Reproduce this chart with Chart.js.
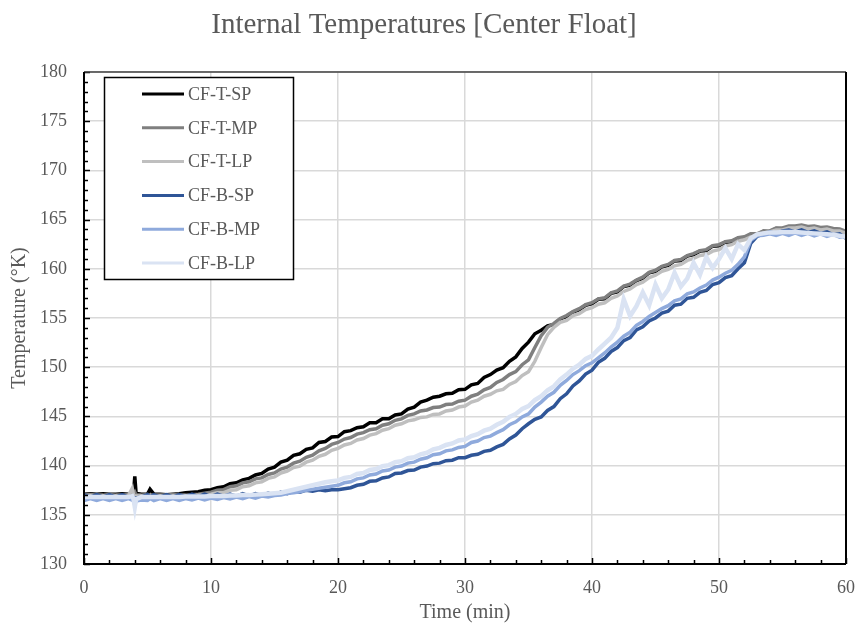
<!DOCTYPE html>
<html>
<head>
<meta charset="utf-8">
<title>Internal Temperatures [Center Float]</title>
<script src="https://cdn.jsdelivr.net/npm/chart.js@4.4.1/dist/chart.umd.min.js"></script>
<style>
    body { margin: 0; background: #fff; }
    #Chart { display: block; }
</style>
</head>
<body>
<canvas id="Chart" width="856" height="627"></canvas>
<script>
// sample times (min), extra points around the spikes near 4 and 5 min
const minutes = [
    0, 0.5, 1, 1.5, 2, 2.5, 3, 3.5, 3.8, 3.9, 4, 4.1, 4.5, 5, 5.2,
    5.5, 6, 6.5, 7, 7.5, 8, 8.5, 9, 9.5, 10,
    10.5, 11, 11.5, 12, 12.5, 13, 13.5, 14, 14.5, 15,
    15.5, 16, 16.5, 17, 17.5, 18, 18.5, 19, 19.5, 20,
    20.5, 21, 21.5, 22, 22.5, 23, 23.5, 24, 24.5, 25,
    25.5, 26, 26.5, 27, 27.5, 28, 28.5, 29, 29.5, 30,
    30.5, 31, 31.5, 32, 32.5, 33, 33.5, 34, 34.5, 35,
    35.5, 36, 36.5, 37, 37.5, 38, 38.5, 39, 39.5, 40,
    40.5, 41, 41.5, 42, 42.5, 43, 43.5, 44, 44.5, 45,
    45.5, 46, 46.5, 47, 47.5, 48, 48.5, 49, 49.5, 50,
    50.5, 51, 51.5, 52, 52.5, 53, 53.5, 54, 54.5, 55,
    55.5, 56, 56.5, 57, 57.5, 58, 58.5, 59, 59.5, 60
]

const seriesNames = ['CF-T-SP', 'CF-T-MP', 'CF-T-LP', 'CF-B-SP', 'CF-B-MP', 'CF-B-LP']
const seriesColors = ['#000000', '#7f7f7f', '#bfbfbf', '#2f5597', '#8faadc', '#dae3f3']

const tSP = [
    137.1, 137.15, 137.1, 137.15, 137.1, 137.1, 137.15, 137.1, 137.1, 137.2, 138.9, 137.2, 137.1, 137.1, 137.6,
    137.1, 137.1, 137.05, 137.1, 137.15, 137.25, 137.3, 137.35, 137.5, 137.55,
    137.75, 137.85, 138.15, 138.25, 138.55, 138.7, 139.05, 139.2, 139.65, 139.85,
    140.35, 140.55, 141.05, 141.2, 141.65, 141.8, 142.35, 142.45, 142.9, 142.95,
    143.45, 143.55, 143.85, 143.95, 144.35, 144.35, 144.75, 144.75, 145.15, 145.25,
    145.75, 145.95, 146.45, 146.65, 146.95, 147.05, 147.3, 147.35, 147.7, 147.75,
    148.2, 148.35, 148.95, 149.25, 149.7, 149.95, 150.6, 151.05, 151.9, 152.55,
    153.4, 153.75, 154.2, 154.35, 154.9, 155.15, 155.6, 155.85, 156.3, 156.45,
    156.9, 156.95, 157.5, 157.65, 158.2, 158.35, 158.8, 159.05, 159.6, 159.75,
    160.2, 160.35, 160.8, 160.85, 161.3, 161.45, 161.8, 161.85, 162.3, 162.35,
    162.7, 162.75, 163.1, 163.15, 163.5, 163.45, 163.8, 163.75, 164.1, 164.05,
    164.25, 164.25, 164.35, 164.2, 164.25, 164.1, 164.15, 164.0, 163.95, 163.7
]
const tMP = [
    137.0, 137.05, 137.0, 137.0, 137.05, 137.0, 137.0, 137.05, 137.0, 137.1, 137.3, 137.0, 137.0, 137.05, 137.0,
    137.0, 137.0, 137.0, 137.05, 137.0, 137.0, 137.05, 137.1, 137.2, 137.3,
    137.5, 137.55, 137.85, 137.95, 138.25, 138.35, 138.65, 138.75, 139.1, 139.25,
    139.65, 139.85, 140.25, 140.45, 140.85, 141.05, 141.5, 141.75, 142.15, 142.35,
    142.7, 142.85, 143.2, 143.35, 143.65, 143.75, 144.1, 144.25, 144.6, 144.75,
    145.1, 145.25, 145.55, 145.65, 145.9, 145.95, 146.2, 146.25, 146.55, 146.65,
    147.05, 147.25, 147.7, 147.95, 148.45, 148.75, 149.25, 149.55, 150.25, 150.75,
    152.0, 153.2, 154.05, 154.45, 154.95, 155.25, 155.65, 155.95, 156.35, 156.55,
    156.95, 157.05, 157.55, 157.75, 158.25, 158.45, 158.85, 159.15, 159.65, 159.85,
    160.25, 160.45, 160.85, 160.95, 161.35, 161.55, 161.85, 161.95, 162.35, 162.45,
    162.75, 162.85, 163.15, 163.25, 163.55, 163.55, 163.85, 163.85, 164.15, 164.15,
    164.35, 164.35, 164.45, 164.3, 164.35, 164.2, 164.25, 164.1, 164.05, 163.8
]
const tLP = [
    136.9, 136.95, 136.9, 136.9, 136.95, 136.9, 136.9, 136.95, 137.7, 137.0, 136.9, 136.9, 136.9, 136.95, 136.9,
    136.9, 136.9, 136.9, 136.9, 136.95, 136.9, 136.95, 137.0, 137.05, 137.1,
    137.25, 137.25, 137.5, 137.55, 137.85, 137.95, 138.25, 138.35, 138.7, 138.85,
    139.25, 139.45, 139.8, 139.95, 140.35, 140.55, 140.95, 141.15, 141.55, 141.75,
    142.1, 142.25, 142.6, 142.75, 143.1, 143.25, 143.6, 143.75, 144.1, 144.25,
    144.55, 144.65, 144.9, 144.95, 145.2, 145.25, 145.55, 145.65, 145.95, 146.05,
    146.45, 146.65, 147.05, 147.25, 147.6, 147.75, 148.25, 148.55, 149.15, 149.55,
    150.6, 152.0, 153.3, 154.05, 154.55, 154.75, 155.25, 155.45, 155.85, 156.05,
    156.4, 156.55, 157.0, 157.25, 157.7, 157.95, 158.4, 158.65, 159.1, 159.35,
    159.75, 159.95, 160.3, 160.45, 160.85, 161.05, 161.35, 161.45, 161.8, 161.95,
    162.3, 162.45, 162.8, 162.95, 163.25, 163.35, 163.65, 163.75, 163.95, 163.95,
    164.15, 164.15, 164.25, 164.05, 164.15, 163.95, 164.05, 163.85, 163.85, 163.6
]
const bSP = [
    137.05, 136.8, 137.05, 136.8, 137.05, 136.8, 137.05, 136.8, 136.9, 136.7, 136.3, 136.7, 136.8, 137.05, 136.8,
    137.05, 136.8, 137.05, 136.8, 137.05, 136.85, 137.1, 136.85, 137.1, 136.85,
    137.1, 136.9, 137.1, 136.9, 137.15, 136.9, 137.15, 136.95, 137.2, 137.0,
    137.3, 137.15, 137.4, 137.3, 137.5, 137.4, 137.55, 137.45, 137.55, 137.55,
    137.65, 137.75, 138.0, 138.1, 138.4, 138.45, 138.75, 138.85, 139.2, 139.25,
    139.5, 139.55, 139.85, 139.95, 140.2, 140.25, 140.5, 140.55, 140.8, 140.8,
    141.05, 141.15, 141.45, 141.55, 141.9, 142.15, 142.7, 143.1, 143.75, 144.25,
    144.7, 144.95, 145.6, 146.0, 146.8, 147.3, 148.1, 148.6, 149.3, 149.7,
    150.5, 150.9, 151.6, 152.0, 152.7, 153.0, 153.8, 154.1, 154.7, 155.0,
    155.5, 155.7, 156.3, 156.4, 157.0, 157.1, 157.6, 157.8, 158.4, 158.6,
    159.1, 159.3, 160.0, 160.6, 162.6, 163.3, 163.55, 163.75, 163.6, 163.85,
    163.95, 163.75, 163.95, 163.7, 163.85, 163.6, 163.75, 163.45, 163.55, 163.1
]
const bMP = [
    136.45, 136.65, 136.45, 136.65, 136.45, 136.65, 136.45, 136.65, 136.5, 136.4, 136.0, 136.4, 136.5, 136.45, 136.65,
    136.45, 136.65, 136.45, 136.65, 136.45, 136.65, 136.5, 136.7, 136.5, 136.7,
    136.55, 136.75, 136.6, 136.8, 136.65, 136.85, 136.7, 136.9, 136.8, 136.95,
    137.0, 137.15, 137.25, 137.35, 137.5, 137.6, 137.7, 137.8, 137.9, 138.0,
    138.25, 138.35, 138.65, 138.75, 139.05, 139.15, 139.45, 139.55, 139.85, 139.95,
    140.25, 140.35, 140.65, 140.8, 141.1, 141.2, 141.5, 141.6, 141.85, 141.95,
    142.35, 142.5, 142.85, 143.0, 143.35, 143.65, 144.15, 144.45, 144.95, 145.25,
    145.95, 146.45, 147.05, 147.45, 148.15, 148.65, 149.25, 149.65, 150.15, 150.45,
    150.95, 151.45, 152.05, 152.55, 153.15, 153.55, 154.25, 154.65, 155.15, 155.55,
    155.95, 156.25, 156.75, 156.95, 157.45, 157.65, 158.05, 158.35, 158.85, 159.15,
    159.55, 159.85, 160.45, 161.2, 162.9, 163.35, 163.4, 163.55, 163.4, 163.6,
    163.4, 163.65, 163.4, 163.6, 163.35, 163.55, 163.3, 163.5, 163.2, 163.3
]
const bLP = [
    136.8, 136.8, 136.8, 136.8, 136.8, 136.8, 136.8, 136.8, 136.9, 136.6, 135.8, 136.6, 136.8, 136.8, 136.8,
    136.8, 136.8, 136.8, 136.8, 136.8, 136.85, 136.85, 136.85, 136.85, 136.9,
    136.9, 136.9, 136.95, 136.95, 137.0, 137.0, 137.05, 137.1, 137.15, 137.2,
    137.25, 137.4, 137.55, 137.7, 137.85, 138.0, 138.15, 138.3, 138.4, 138.5,
    138.75, 138.85, 139.15, 139.25, 139.55, 139.65, 139.95, 140.05, 140.35, 140.45,
    140.75, 140.85, 141.15, 141.3, 141.65, 141.8, 142.1, 142.25, 142.55, 142.65,
    143.0, 143.2, 143.55, 143.75, 144.15, 144.45, 144.95, 145.25, 145.75, 146.05,
    146.65, 147.05, 147.65, 148.05, 148.75, 149.25, 149.85, 150.25, 150.85, 151.15,
    151.8, 152.4, 153.0, 154.0, 156.9, 155.2, 156.2, 157.6, 156.3, 158.4,
    157.0, 157.9, 159.6, 158.2, 159.0, 160.6, 159.4, 161.2, 160.1, 161.0,
    162.1, 161.0, 162.5, 161.9, 163.1, 163.5, 163.6, 163.7, 163.7, 163.75,
    163.75, 163.75, 163.7, 163.65, 163.6, 163.55, 163.5, 163.45, 163.35, 163.25
]
const seriesValues = [tSP, tMP, tLP, bSP, bMP, bLP]

const textColor = '#595959'
const serif = '"Liberation Serif", "Times New Roman", serif'

// Title, plot frame with inside ticks, and the boxed legend
const chartDecor = {
    id: 'chartDecor',
    afterDatasetsDraw(chart) {
        const ctx = chart.ctx
        const area = chart.chartArea
        const x = chart.scales.x
        const y = chart.scales.y
        ctx.save()

        ctx.strokeStyle = '#000'
        ctx.lineWidth = 1.5
        for (let v = 0; v <= 60; v += 2) {
            const px = Math.round(x.getPixelForValue(v)) + 0.5
            const len = v % 10 === 0 ? 6 : 4
            ctx.beginPath()
            ctx.moveTo(px, area.bottom)
            ctx.lineTo(px, area.bottom - len)
            ctx.stroke()
        }
        for (let v = 130; v <= 180; v += 1) {
            const py = Math.round(y.getPixelForValue(v)) + 0.5
            const len = v % 5 === 0 ? 6 : 4
            ctx.beginPath()
            ctx.moveTo(area.left, py)
            ctx.lineTo(area.left + len, py)
            ctx.stroke()
        }

        // top and right edges
        ctx.strokeStyle = '#404040'
        ctx.lineWidth = 1.5
        ctx.beginPath()
        ctx.moveTo(area.left, area.top)
        ctx.lineTo(area.right, area.top)
        ctx.stroke()
        ctx.strokeStyle = '#000'
        ctx.lineWidth = 2
        ctx.beginPath()
        ctx.moveTo(area.right, area.top)
        ctx.lineTo(area.right, area.bottom)
        ctx.stroke()
        // axis lines
        ctx.beginPath()
        ctx.moveTo(area.left, area.top)
        ctx.lineTo(area.left, area.bottom)
        ctx.lineTo(area.right, area.bottom)
        ctx.stroke()

        // legend
        ctx.fillStyle = '#fff'
        ctx.fillRect(104, 77, 190, 203)
        ctx.strokeStyle = '#000'
        ctx.lineWidth = 1.5
        ctx.strokeRect(104.5, 77.5, 189, 202)
        ctx.font = '18px ' + serif
        ctx.textBaseline = 'middle'
        ctx.textAlign = 'left'
        chart.data.datasets.forEach((ds, i) => {
            const ly = 94 + i * 33.8
            ctx.strokeStyle = ds.borderColor
            ctx.lineWidth = 3
            ctx.beginPath()
            ctx.moveTo(142, ly)
            ctx.lineTo(184, ly)
            ctx.stroke()
            ctx.fillStyle = textColor
            ctx.fillText(ds.label, 188, ly + 1)
        })

        ctx.font = '29px ' + serif
        ctx.textAlign = 'center'
        ctx.textBaseline = 'alphabetic'
        ctx.fillText('Internal Temperatures [Center Float]', 424, 33)
        ctx.restore()
    }
}

function renderChart() {
    const ctx = document.getElementById('Chart').getContext('2d')
    const datasets = seriesNames.map((name, i) => ({
        label: name,
        data: minutes.map((t, j) => ({ x: t, y: seriesValues[i][j] })),
        borderColor: seriesColors[i],
        backgroundColor: seriesColors[i],
        borderWidth: i === 5 ? 4.5 : 3.5,
        pointRadius: 0,
        tension: 0,
        // later series sit on top
        order: seriesNames.length - i
    }))

    return new Chart(ctx, {
        type: 'line',
        data: { datasets: datasets },
        options: {
            responsive: false,
            animation: false,
            events: [],
            layout: { padding: { top: 72, right: 10, left: 0, bottom: 0 } },
            plugins: {
                legend: { display: false },
                title: { display: false },
                tooltip: { enabled: false }
            },
            scales: {
                x: {
                    type: 'linear',
                    min: 0,
                    max: 60,
                    afterFit: (scale) => {
                        scale.height = 63
                        scale.paddingLeft = 0
                        scale.paddingRight = 0
                    },
                    ticks: {
                        stepSize: 10,
                        padding: 13,
                        color: textColor,
                        font: { family: serif, size: 18 }
                    },
                    grid: { color: '#d9d9d9', lineWidth: 1.5, drawTicks: false },
                    border: { display: false },
                    title: {
                        display: true,
                        text: 'Time (min)',
                        color: textColor,
                        font: { family: serif, size: 20 },
                        padding: { top: 0, bottom: 2 }
                    }
                },
                y: {
                    min: 130,
                    max: 180,
                    afterFit: (scale) => {
                        scale.width = 84
                        scale.paddingTop = 0
                        scale.paddingBottom = 0
                    },
                    ticks: {
                        stepSize: 5,
                        padding: 17,
                        color: textColor,
                        font: { family: serif, size: 18 }
                    },
                    grid: { color: '#d9d9d9', lineWidth: 1.5, drawTicks: false },
                    border: { display: false },
                    title: {
                        display: true,
                        text: 'Temperature (°K)',
                        color: textColor,
                        font: { family: serif, size: 20 },
                        padding: { top: 8, bottom: 0 }
                    }
                }
            }
        },
        plugins: [chartDecor]
    })
}

const myChart = renderChart()
</script>
</body>
</html>
